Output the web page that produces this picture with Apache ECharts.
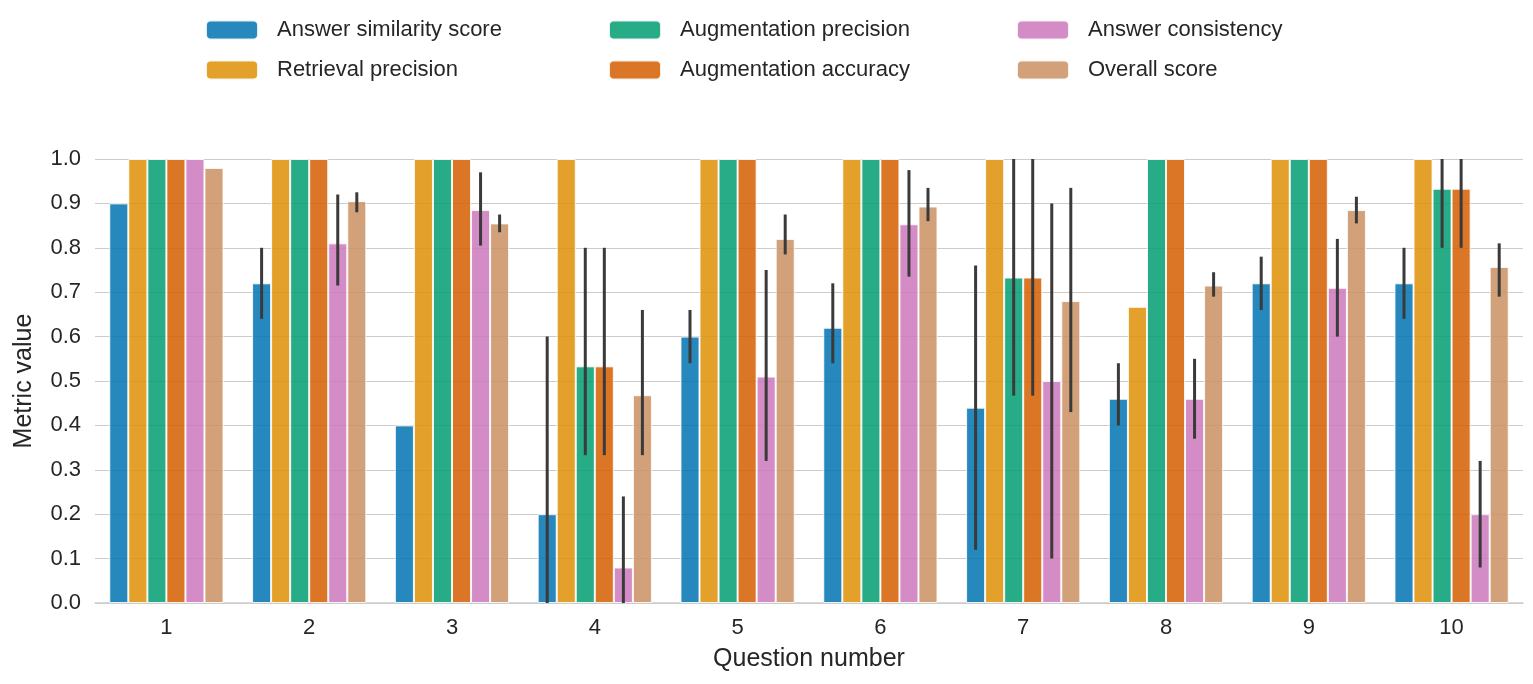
<!DOCTYPE html>
<html><head><meta charset="utf-8">
<script src="https://cdn.jsdelivr.net/npm/echarts@6/dist/echarts.min.js"></script>
<style>html,body{margin:0;padding:0;background:#fff}#c{width:1533px;height:684px}</style>
</head><body><div id="c"></div>
<script>
const categories = ['1','2','3','4','5','6','7','8','9','10'];
const seriesNames = ['Answer similarity score','Retrieval precision','Augmentation precision','Augmentation accuracy','Answer consistency','Overall score'];
const colors = ['#0173b2','#de8f05','#029e73','#d55e00','#cc78bc','#ca9161'];
const answerSimilarity = [0.9,0.72,0.4,0.2,0.6,0.62,0.44,0.46,0.72,0.72];
const retrievalPrecision = [1,1,1,1,1,1,1,0.667,1,1];
const augmentationPrecision = [1,1,1,0.533,1,1,0.733,1,1,0.933];
const augmentationAccuracy = [1,1,1,0.533,1,1,0.733,1,1,0.933];
const answerConsistency = [1,0.81,0.885,0.08,0.51,0.853,0.5,0.46,0.71,0.2];
const overallScore = [0.98,0.905,0.855,0.468,0.82,0.893,0.68,0.715,0.885,0.757];
// error intervals [low, high] or null
const errAnswerSimilarity = [null,[0.64,0.80],null,[0,0.6],[0.54,0.66],[0.54,0.72],[0.12,0.76],[0.4,0.54],[0.66,0.78],[0.64,0.80]];
const errRetrievalPrecision = [null,null,null,null,null,null,null,null,null,null];
const errAugmentationPrecision = [null,null,null,[0.333,0.8],null,null,[0.467,1],null,null,[0.8,1]];
const errAugmentationAccuracy = [null,null,null,[0.333,0.8],null,null,[0.467,1],null,null,[0.8,1]];
const errAnswerConsistency = [null,[0.715,0.92],[0.805,0.97],[0,0.24],[0.32,0.75],[0.735,0.975],[0.1,0.9],[0.37,0.55],[0.6,0.82],[0.08,0.32]];
const errOverallScore = [null,[0.88,0.925],[0.835,0.875],[0.333,0.66],[0.785,0.875],[0.86,0.935],[0.43,0.935],[0.69,0.745],[0.855,0.915],[0.69,0.81]];

const values = [answerSimilarity,retrievalPrecision,augmentationPrecision,augmentationAccuracy,answerConsistency,overallScore];
const errs = [errAnswerSimilarity,errRetrievalPrecision,errAugmentationPrecision,errAugmentationAccuracy,errAnswerConsistency,errOverallScore];
const font = 'Liberation Sans, Arial, sans-serif';
const txt = '#262626';

const series = [];
values.forEach((v,i)=>{
  series.push({name:seriesNames[i],type:'bar',data:v,barGap:'0%',barCategoryGap:'20%',
    itemStyle:{color:colors[i],opacity:0.85,borderColor:'#fff',borderWidth:1}});
});
errs.forEach((e,i)=>{
  const data=[]; e.forEach((r,k)=>{ if(r) data.push([k,r[0],r[1]]); });
  series.push({type:'custom',z:10,silent:true,data:data,encode:{x:0,y:[1,2]},
    renderItem:(params,api)=>{
      const cw=api.size([1,0])[0]; const bw=cw*0.8/6;
      const off=(i-2.5)*bw;
      const p1=api.coord([api.value(0),api.value(1)]);
      const p2=api.coord([api.value(0),api.value(2)]);
      return {type:'line',shape:{x1:p1[0]+off,y1:p1[1],x2:p2[0]+off,y2:p2[1]},style:{stroke:'#3a3a3a',lineWidth:3}};
    }});
});
const legendBase = {orient:'vertical',top:14,itemWidth:52,itemHeight:19,itemGap:18,
  textStyle:{fontSize:22,color:txt,fontFamily:font,padding:[0,0,0,14]}};
const chart = echarts.init(document.getElementById('c'));
chart.setOption({
  animation:false,
  color:colors,
  legend:[
    Object.assign({left:200,data:[seriesNames[0],seriesNames[1]]},legendBase),
    Object.assign({left:603,data:[seriesNames[2],seriesNames[3]]},legendBase),
    Object.assign({left:1011,data:[seriesNames[4],seriesNames[5]]},legendBase)
  ],
  grid:{left:95,right:10,top:159,bottom:81},
  xAxis:{type:'category',data:categories,name:'Question number',nameLocation:'middle',nameGap:44,
    nameTextStyle:{fontSize:25,color:txt,fontFamily:font},
    axisLine:{lineStyle:{color:'#cccccc',width:1.5}},axisTick:{show:false},
    axisLabel:{fontSize:22,color:txt,fontFamily:font,margin:14}},
  yAxis:{type:'value',min:0,max:1,interval:0.1,name:'Metric value',nameLocation:'middle',nameGap:58,
    nameTextStyle:{fontSize:25,color:txt,fontFamily:font},
    axisLine:{show:false},axisTick:{show:false},
    axisLabel:{fontSize:22,color:txt,fontFamily:font,formatter:v=>v.toFixed(1),margin:14},
    splitLine:{lineStyle:{color:'#cccccc',width:1.2}}},
  series:series
});
</script></body></html>
